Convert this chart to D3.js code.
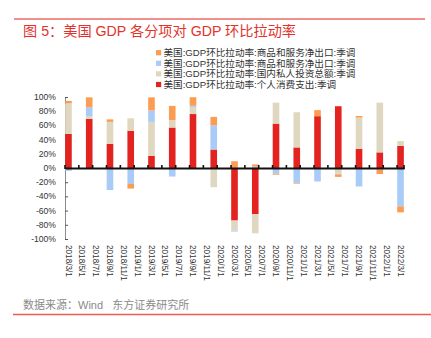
<!DOCTYPE html>
<html>
<head>
<meta charset="utf-8">
<script src="https://cdn.jsdelivr.net/npm/d3@7"></script>
<style>
  html, body { margin: 0; padding: 0; background: #fff; }
  svg { display: block; font-family: "Liberation Sans", Arial, "Noto Sans CJK SC", sans-serif; }
</style>
</head>
<body>
<svg id="chart" width="431" height="338"></svg>
<script>
// ---- data ----
const quarters = ["2018-03","2018-06","2018-09","2018-12","2019-03","2019-06","2019-09","2019-12",
                  "2020-03","2020-06","2020-09","2020-12","2021-03","2021-06","2021-09","2021-12","2022-03"];
const pce      = [48, 69, 34, 52.5, 17, 57, 76, 26, -74, -65, 62.5, 29, 73, 87, 27, 22, 31];
const invest   = [43, 4, 31, 17.5, 48, 10.5, 9.5, -27, -14.5, -27, 29.5, 49.5, -1.5, -8, 44, 70, 7];
const netExpA  = [-4, 12.5, -31, -22.5, 16, -12, 2.2, 34, -1, 2, -8, -21, -17.5, -1, -26, -2, -54];
const netExpB  = [3.5, 14, 3.5, -6.5, 18.5, 20, 12, 12, 9.5, 3, -1.5, -1, 8.5, -3.5, 2.3, -6.5, -8.5];
const yTicks   = [100, 80, 60, 40, 20, 0, -20, -40, -60, -80, -100];
const seriesNames = {
  netExpB: "美国:GDP环比拉动率:商品和服务净出口:季调",
  netExpA: "美国:GDP环比拉动率:商品和服务净出口:季调",
  invest:  "美国:GDP环比拉动率:国内私人投资总额:季调",
  pce:     "美国:GDP环比拉动率:个人消费支出:季调"
};
const colors = { pce: "#e3231f", invest: "#e0d7c0", netExpA: "#a9cbf7", netExpB: "#fb9c52" };

// months for the axis (every month from 2018-03 to 2022-03)
const fmtM = d3.timeFormat("%Y-%m");
const months = d3.timeMonth.range(new Date(2018, 2, 1), new Date(2022, 3, 1)).map(fmtM);

const rows = quarters.map((q, i) => ({ q, pce: pce[i], invest: invest[i], netExpA: netExpA[i], netExpB: netExpB[i] }));
const keys = ["pce", "invest", "netExpA", "netExpB"];
const stacked = d3.stack().keys(keys).offset(d3.stackOffsetDiverging)(rows);

const svg = d3.select("#chart");
svg.append("rect").attr("width", 431).attr("height", 338).attr("fill", "#fff");

// header / footer
svg.append("line").attr("x1", 14).attr("x2", 425).attr("y1", 19).attr("y2", 19)
  .attr("stroke", "#ec6a64").attr("stroke-width", 1.5);
svg.append("text").attr("x", 23).attr("y", 36).attr("fill", "#e2322b")
  .attr("font-size", 14.2).text("图 5：美国 GDP 各分项对 GDP 环比拉动率");
svg.append("text").attr("x", 23).attr("y", 309).attr("fill", "#8a8a8a")
  .attr("font-size", 11).attr("xml:space", "preserve").text("数据来源：Wind   东方证券研究所");
svg.append("line").attr("x1", 13).attr("x2", 431).attr("y1", 314.5).attr("y2", 314.5)
  .attr("stroke", "#ec5a52").attr("stroke-width", 1.5);

// scales
const x = d3.scaleBand().domain(months).range([65, 404]).paddingInner(0).paddingOuter(0);
const y = d3.scaleLinear().domain([-100, 100]).range([239, 97]);

// y axis
const yAxis = d3.axisRight(y).tickValues(yTicks).tickSize(3).tickFormat(() => "");
const gy = svg.append("g").attr("transform", "translate(65,0)").call(yAxis);
gy.select(".domain").attr("stroke", "#8c8c8c");
gy.selectAll(".tick line").attr("stroke", "#555");
svg.append("g").selectAll("text").data(yTicks).join("text")
  .attr("x", 56).attr("y", d => y(d)).attr("dy", "0.35em")
  .attr("text-anchor", "end").attr("font-size", 8.6).attr("fill", "#333")
  .text(d => d + "%");

// bars
svg.append("g").selectAll("g").data(stacked).join("g")
  .attr("fill", d => colors[d.key])
  .selectAll("rect").data(d => d).join("rect")
  .attr("x", d => x(d.data.q) + 0.15)
  .attr("width", x.bandwidth() - 0.3)
  .attr("y", d => y(Math.max(d[0], d[1])))
  .attr("height", d => Math.abs(y(d[0]) - y(d[1])));

// zero axis with ticks every 2 months
const tickMonths = months.filter((m, i) => i % 2 === 0);
const xAxis = d3.axisBottom(x).tickValues(tickMonths).tickSize(0).tickFormat(() => "");
const gx = svg.append("g").attr("transform", `translate(0,${y(0)})`).call(xAxis);
gx.select(".domain").attr("stroke", "#111").attr("stroke-width", 2);
gx.selectAll(".tick").remove();
svg.append("g").selectAll("line").data(tickMonths.concat(["end"])).join("line")
  .attr("x1", d => d === "end" ? 404 : x(d)).attr("x2", d => d === "end" ? 404 : x(d))
  .attr("y1", y(0) - 3).attr("y2", y(0) + 1)
  .attr("stroke", "#111").attr("stroke-width", 1.6);

// x labels (rotated)
const fmtLabel = m => { const [yy, mm] = m.split("-"); return `${yy}/${+mm}/1`; };
svg.append("g").selectAll("text").data(tickMonths).join("text")
  .attr("transform", d => `translate(${x(d) + x.bandwidth() / 2},245) rotate(90)`)
  .attr("dy", "0.35em").attr("font-size", 8.2).attr("fill", "#333")
  .text(fmtLabel);

// legend
const legendKeys = ["netExpB", "netExpA", "invest", "pce"];
const lg = svg.append("g").selectAll("g").data(legendKeys).join("g")
  .attr("transform", (d, i) => `translate(156,${52.7 + i * 10.6})`);
lg.append("rect").attr("x", 0).attr("y", -2.6).attr("width", 5.2).attr("height", 5.2)
  .attr("fill", d => colors[d]);
lg.append("text").attr("x", 7.5).attr("dy", "0.35em").attr("font-size", 9.6)
  .attr("fill", "#333").text(d => seriesNames[d]);
</script>
</body>
</html>
